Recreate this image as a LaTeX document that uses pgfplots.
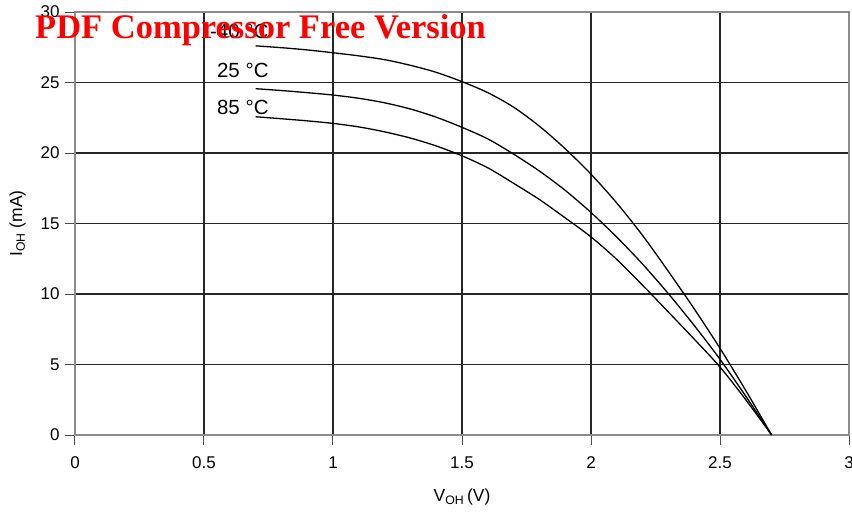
\documentclass[border=0pt]{standalone}
\usepackage{fontspec}
\setmainfont{Liberation Sans}
\newfontfamily\wmfont{Liberation Serif}
\usepackage{pgfplots}
\pgfplotsset{compat=1.18}

\begin{document}
\begin{tikzpicture}
% canvas of the reference: 852 x 517, axis from (75,12) to (849,435)
\useasboundingbox (-75pt,-82pt) rectangle (777pt,435pt);
\begin{axis}[
  width=774pt, height=423pt, scale only axis,
  xmin=0, xmax=3, ymin=0, ymax=30,
  xtick={0,0.5,1,1.5,2,2.5,3},
  ytick={0,5,10,15,20,25,30},
  xtick pos=bottom, ytick pos=left,
  tick align=outside, major tick length=10pt,
  grid=major,
  major grid style={line width=1.4pt, color=black!85},
  axis line style={line width=1.3pt, color=black!45},
  tick style={line width=1pt, color=black!70},
  ticklabel style={font=\fontsize{17}{20}\selectfont},
  xticklabel style={yshift=-8pt},
  yticklabel style={xshift=-2pt},
  /pgf/number format/assume math mode=true,
  xlabel={V\textsubscript{OH}\,(V)},
  ylabel={I\textsubscript{OH} (mA)},
  label style={font=\fontsize{17.5}{20}\selectfont},
  xlabel style={at={(axis description cs:0.5,-0.147)}, anchor=center},
  ylabel style={at={(axis description cs:-0.074,0.5)}, anchor=center},
  clip=false,
]
% -40 C
\addplot[black, line width=1.3pt, smooth] coordinates {
  (0.7,27.60) (0.8,27.47) (0.9,27.31) (1.0,27.11) (1.1,26.89) (1.2,26.62)
  (1.3,26.22) (1.4,25.72) (1.5,25.06) (1.6,24.28) (1.7,23.25) (1.8,21.90)
  (1.9,20.30) (2.0,18.50) (2.1,16.45) (2.2,14.15) (2.3,11.60) (2.4,8.95)
  (2.5,6.15) (2.6,3.15) (2.7,0)};
% 25 C
\addplot[black, line width=1.3pt, smooth] coordinates {
  (0.7,24.56) (0.8,24.43) (0.9,24.28) (1.0,24.11) (1.1,23.88) (1.2,23.56)
  (1.3,23.12) (1.4,22.54) (1.5,21.82) (1.6,21.00) (1.7,19.92) (1.8,18.72)
  (1.9,17.35) (2.0,15.78) (2.1,14.03) (2.2,12.12) (2.3,10.02) (2.4,7.77)
  (2.5,5.37) (2.6,2.75) (2.7,0)};
% 85 C
\addplot[black, line width=1.3pt, smooth] coordinates {
  (0.7,22.57) (0.8,22.43) (0.9,22.28) (1.0,22.10) (1.1,21.85) (1.2,21.50)
  (1.3,21.06) (1.4,20.50) (1.5,19.80) (1.6,18.95) (1.7,17.85) (1.8,16.70)
  (1.9,15.40) (2.0,14.05) (2.1,12.45) (2.2,10.62) (2.3,8.72) (2.4,6.80)
  (2.5,4.82) (2.6,2.50) (2.7,0)};
\node[anchor=base west, inner sep=0pt, font=\fontsize{20.5}{24}\selectfont] at (axis cs:0.523,28.09) {-40 °C};
\node[anchor=base west, inner sep=0pt, font=\fontsize{20.5}{24}\selectfont] at (axis cs:0.55,25.39) {25 °C};
\node[anchor=base west, inner sep=0pt, font=\fontsize{20.5}{24}\selectfont] at (axis cs:0.55,22.7) {85 °C};
\node[anchor=base west, inner sep=0pt, text=red, font=\wmfont\bfseries\fontsize{34.5}{38}\selectfont] at (axis cs:-0.155,28.09) {PDF Compressor Free Version};
\end{axis}
\end{tikzpicture}
\end{document}
